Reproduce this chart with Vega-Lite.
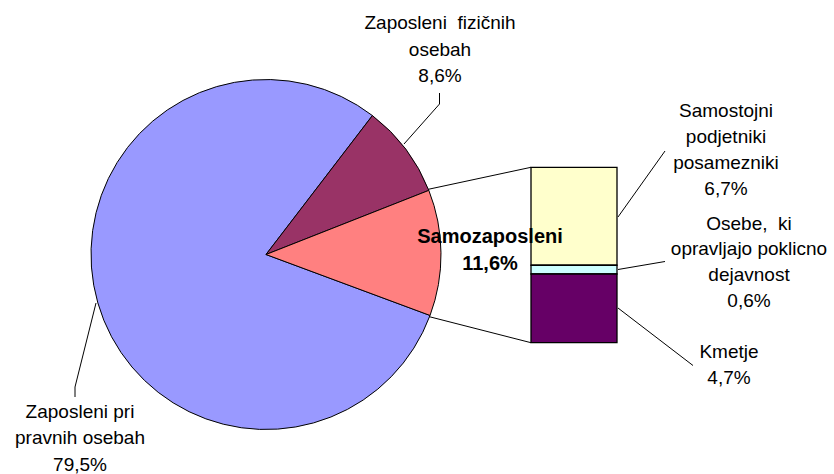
{
  "$schema": "https://vega.github.io/schema/vega-lite/v6.json",
  "width": 834,
  "height": 474,
  "autosize": "none",
  "padding": 0,
  "background": "white",
  "config": {
    "view": {"stroke": null},
    "text": {"font": "Liberation Sans", "fontSize": 19, "align": "center", "baseline": "alphabetic", "color": "#000"}
  },
  "datasets": {
    "shares": [
      {"cat": "Zaposleni pri pravnih osebah", "part": "pie", "pct": 79.5, "ord": 3, "label": ["Zaposleni pri", "pravnih osebah", "79,5%"]},
      {"cat": "Zaposleni fizičnih osebah", "part": "pie", "pct": 8.6, "ord": 1, "label": ["Zaposleni \u00a0fizičnih", "osebah", "8,6%"]},
      {"cat": "Samozaposleni", "part": "pie", "pct": 11.6, "ord": 2, "label": ["Samozaposleni", "11,6%"]},
      {"cat": "Samostojni podjetniki posamezniki", "part": "bar", "pct": 6.7, "ord": 3, "label": ["Samostojni", "podjetniki", "posamezniki", "6,7%"]},
      {"cat": "Osebe, ki opravljajo poklicno dejavnost", "part": "bar", "pct": 0.6, "ord": 2, "label": ["Osebe, \u00a0ki", "opravljajo poklicno", "dejavnost", "0,6%"]},
      {"cat": "Kmetje", "part": "bar", "pct": 4.7, "ord": 1, "label": ["Kmetje", "4,7%"]}
    ]
  },
  "data": {"name": "shares"},
  "resolve": {"scale": {"y": "independent"}},
  "layer": [
    {
      "transform": [
        {"filter": "datum.part === 'bar'"},
        {"stack": "pct", "groupby": [], "sort": [{"field": "ord", "order": "ascending"}], "as": ["y0", "y1"]}
      ],
      "mark": {"type": "rect", "stroke": "#000", "strokeWidth": 1.3},
      "encoding": {
        "x": {"datum": 531, "type": "quantitative", "scale": {"domain": [0, 834], "nice": false, "zero": false}, "axis": null},
        "x2": {"datum": 617},
        "y": {"field": "y0", "type": "quantitative", "scale": {"domain": [-8.983, 23.445], "nice": false, "zero": false}, "axis": null},
        "y2": {"field": "y1"},
        "color": {"field": "cat", "type": "nominal", "legend": null,
          "scale": {"domain": ["Zaposleni pri pravnih osebah", "Zaposleni fizičnih osebah", "Samozaposleni", "Samostojni podjetniki posamezniki", "Osebe, ki opravljajo poklicno dejavnost", "Kmetje"],
                    "range": ["#9999FF", "#993366", "#FF8080", "#FFFFCC", "#CCFFFF", "#660066"]}}
      }
    },
    {
      "layer": [
        {
          "transform": [{"filter": "datum.part === 'pie'"}],
          "mark": {"type": "arc", "outerRadius": 175, "stroke": "#000", "strokeWidth": 1},
          "encoding": {
            "x": {"datum": 266, "type": "quantitative", "scale": {"domain": [0, 834], "nice": false, "zero": false}, "axis": null},
            "y": {"datum": 254.5, "type": "quantitative", "scale": {"domain": [0, 474], "nice": false, "zero": false, "reverse": true}, "axis": null},
            "theta": {"field": "pct", "type": "quantitative", "stack": true, "scale": {"range": [0.6536, 6.9368]}},
            "order": {"field": "ord", "type": "quantitative"},
            "color": {"field": "cat", "type": "nominal", "legend": null,
              "scale": {"domain": ["Zaposleni pri pravnih osebah", "Zaposleni fizičnih osebah", "Samozaposleni", "Samostojni podjetniki posamezniki", "Osebe, ki opravljajo poklicno dejavnost", "Kmetje"],
                        "range": ["#9999FF", "#993366", "#FF8080", "#FFFFCC", "#CCFFFF", "#660066"]}}
          }
        },
        {
          "data": {"values": [{}]},
          "mark": {"type": "rule", "color": "#000", "strokeWidth": 1},
          "encoding": {
            "x": {"datum": 428.3, "type": "quantitative", "scale": {"domain": [0, 834], "nice": false, "zero": false}, "axis": null},
            "y": {"datum": 189.3, "type": "quantitative", "scale": {"domain": [0, 474], "nice": false, "zero": false, "reverse": true}, "axis": null},
            "x2": {"datum": 531}, "y2": {"datum": 167.3}
          }
        },
        {
          "data": {"values": [{}]},
          "mark": {"type": "rule", "color": "#000", "strokeWidth": 1},
          "encoding": {
            "x": {"datum": 429.3, "type": "quantitative", "scale": {"domain": [0, 834], "nice": false, "zero": false}, "axis": null},
            "y": {"datum": 316.7, "type": "quantitative", "scale": {"domain": [0, 474], "nice": false, "zero": false, "reverse": true}, "axis": null},
            "x2": {"datum": 531}, "y2": {"datum": 342.7}
          }
        },
        {
          "data": {"values": [{}]},
          "mark": {"type": "rule", "color": "#000", "strokeWidth": 1},
          "encoding": {
            "x": {"datum": 439.5, "type": "quantitative", "scale": {"domain": [0, 834], "nice": false, "zero": false}, "axis": null},
            "y": {"datum": 93, "type": "quantitative", "scale": {"domain": [0, 474], "nice": false, "zero": false, "reverse": true}, "axis": null},
            "x2": {"datum": 439.5}, "y2": {"datum": 104}
          }
        },
        {
          "data": {"values": [{}]},
          "mark": {"type": "rule", "color": "#000", "strokeWidth": 1},
          "encoding": {
            "x": {"datum": 439.5, "type": "quantitative", "scale": {"domain": [0, 834], "nice": false, "zero": false}, "axis": null},
            "y": {"datum": 104, "type": "quantitative", "scale": {"domain": [0, 474], "nice": false, "zero": false, "reverse": true}, "axis": null},
            "x2": {"datum": 404}, "y2": {"datum": 144}
          }
        },
        {
          "data": {"values": [{}]},
          "mark": {"type": "rule", "color": "#000", "strokeWidth": 1},
          "encoding": {
            "x": {"datum": 96, "type": "quantitative", "scale": {"domain": [0, 834], "nice": false, "zero": false}, "axis": null},
            "y": {"datum": 303, "type": "quantitative", "scale": {"domain": [0, 474], "nice": false, "zero": false, "reverse": true}, "axis": null},
            "x2": {"datum": 75}, "y2": {"datum": 387}
          }
        },
        {
          "data": {"values": [{}]},
          "mark": {"type": "rule", "color": "#000", "strokeWidth": 1},
          "encoding": {
            "x": {"datum": 75, "type": "quantitative", "scale": {"domain": [0, 834], "nice": false, "zero": false}, "axis": null},
            "y": {"datum": 387, "type": "quantitative", "scale": {"domain": [0, 474], "nice": false, "zero": false, "reverse": true}, "axis": null},
            "x2": {"datum": 75}, "y2": {"datum": 397}
          }
        },
        {
          "data": {"values": [{}]},
          "mark": {"type": "rule", "color": "#000", "strokeWidth": 1},
          "encoding": {
            "x": {"datum": 618, "type": "quantitative", "scale": {"domain": [0, 834], "nice": false, "zero": false}, "axis": null},
            "y": {"datum": 217, "type": "quantitative", "scale": {"domain": [0, 474], "nice": false, "zero": false, "reverse": true}, "axis": null},
            "x2": {"datum": 665}, "y2": {"datum": 151}
          }
        },
        {
          "data": {"values": [{}]},
          "mark": {"type": "rule", "color": "#000", "strokeWidth": 1},
          "encoding": {
            "x": {"datum": 618, "type": "quantitative", "scale": {"domain": [0, 834], "nice": false, "zero": false}, "axis": null},
            "y": {"datum": 269.5, "type": "quantitative", "scale": {"domain": [0, 474], "nice": false, "zero": false, "reverse": true}, "axis": null},
            "x2": {"datum": 665}, "y2": {"datum": 261.5}
          }
        },
        {
          "data": {"values": [{}]},
          "mark": {"type": "rule", "color": "#000", "strokeWidth": 1},
          "encoding": {
            "x": {"datum": 618, "type": "quantitative", "scale": {"domain": [0, 834], "nice": false, "zero": false}, "axis": null},
            "y": {"datum": 308, "type": "quantitative", "scale": {"domain": [0, 474], "nice": false, "zero": false, "reverse": true}, "axis": null},
            "x2": {"datum": 693}, "y2": {"datum": 365.5}
          }
        },
        {
          "transform": [{"filter": "datum.cat === 'Zaposleni fizičnih osebah'"}],
          "mark": {"type": "text", "lineHeight": 26.4},
          "encoding": {
            "x": {"datum": 440, "type": "quantitative", "scale": {"domain": [0, 834], "nice": false, "zero": false}, "axis": null},
            "y": {"datum": 29.3, "type": "quantitative", "scale": {"domain": [0, 474], "nice": false, "zero": false, "reverse": true}, "axis": null},
            "text": {"field": "label"}
          }
        },
        {
          "transform": [{"filter": "datum.cat === 'Zaposleni pri pravnih osebah'"}],
          "mark": {"type": "text", "lineHeight": 26.5},
          "encoding": {
            "x": {"datum": 80, "type": "quantitative", "scale": {"domain": [0, 834], "nice": false, "zero": false}, "axis": null},
            "y": {"datum": 417.5, "type": "quantitative", "scale": {"domain": [0, 474], "nice": false, "zero": false, "reverse": true}, "axis": null},
            "text": {"field": "label"}
          }
        },
        {
          "transform": [{"filter": "datum.cat === 'Samozaposleni'"}],
          "mark": {"type": "text", "lineHeight": 27, "fontWeight": "bold", "fontSize": 20},
          "encoding": {
            "x": {"datum": 490, "type": "quantitative", "scale": {"domain": [0, 834], "nice": false, "zero": false}, "axis": null},
            "y": {"datum": 243.3, "type": "quantitative", "scale": {"domain": [0, 474], "nice": false, "zero": false, "reverse": true}, "axis": null},
            "text": {"field": "label"}
          }
        },
        {
          "transform": [{"filter": "datum.cat === 'Samostojni podjetniki posamezniki'"}],
          "mark": {"type": "text", "lineHeight": 26.2},
          "encoding": {
            "x": {"datum": 726, "type": "quantitative", "scale": {"domain": [0, 834], "nice": false, "zero": false}, "axis": null},
            "y": {"datum": 116.7, "type": "quantitative", "scale": {"domain": [0, 474], "nice": false, "zero": false, "reverse": true}, "axis": null},
            "text": {"field": "label"}
          }
        },
        {
          "transform": [{"filter": "datum.cat === 'Osebe, ki opravljajo poklicno dejavnost'"}],
          "mark": {"type": "text", "lineHeight": 25.8},
          "encoding": {
            "x": {"datum": 749, "type": "quantitative", "scale": {"domain": [0, 834], "nice": false, "zero": false}, "axis": null},
            "y": {"datum": 229.5, "type": "quantitative", "scale": {"domain": [0, 474], "nice": false, "zero": false, "reverse": true}, "axis": null},
            "text": {"field": "label"}
          }
        },
        {
          "transform": [{"filter": "datum.cat === 'Kmetje'"}],
          "mark": {"type": "text", "lineHeight": 26},
          "encoding": {
            "x": {"datum": 729, "type": "quantitative", "scale": {"domain": [0, 834], "nice": false, "zero": false}, "axis": null},
            "y": {"datum": 358.3, "type": "quantitative", "scale": {"domain": [0, 474], "nice": false, "zero": false, "reverse": true}, "axis": null},
            "text": {"field": "label"}
          }
        }
      ]
    }
  ]
}
